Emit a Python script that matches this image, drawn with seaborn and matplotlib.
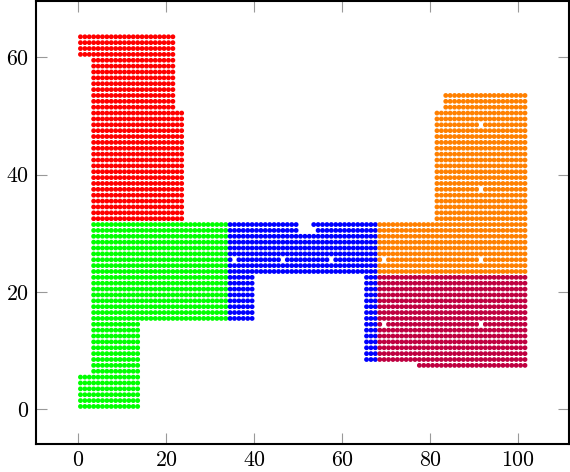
import numpy as np
import pandas as pd
import matplotlib.pyplot as plt
import seaborn as sns

# Blocks of the grid: first/last column, first/last row
red_x0 = [3.5, 3.5, 0.5]
red_x1 = [23.5, 21.5, 21.5]
red_y0 = [32.5, 51.5, 60.5]
red_y1 = [50.5, 59.5, 63.5]

green_x0 = [0.5, 3.5, 3.5]
green_x1 = [13.5, 13.5, 33.5]
green_y0 = [0.5, 6.5, 15.5]
green_y1 = [5.5, 14.5, 31.5]

blue_x0 = [34.5, 65.5, 34.5]
blue_x1 = [39.5, 67.5, 67.5]
blue_y0 = [15.5, 8.5, 23.5]
blue_y1 = [22.5, 22.5, 31.5]
blue_holes = [(35.5, 25.5), (46.5, 25.5), (57.5, 25.5),
              (50.5, 31.5), (51.5, 31.5), (52.5, 31.5),
              (50.5, 30.5), (51.5, 30.5), (52.5, 30.5), (53.5, 30.5)]

orange_x0 = [68.5, 81.5, 83.5]
orange_x1 = [101.5, 101.5, 101.5]
orange_y0 = [23.5, 32.5, 51.5]
orange_y1 = [31.5, 50.5, 53.5]
orange_holes = [(69.5, 25.5), (91.5, 25.5), (91.5, 37.5), (91.5, 48.5)]

crimson_x0 = [77.5, 68.5]
crimson_x1 = [101.5, 101.5]
crimson_y0 = [7.5, 8.5]
crimson_y1 = [7.5, 22.5]
crimson_holes = [(69.5, 14.5), (91.5, 14.5)]

x_ticks = [0, 20, 40, 60, 80, 100]
y_ticks = [0, 20, 40, 60]
colors = {'red': '#ff0000', 'green': '#00ff00', 'blue': '#0000ff',
          'orange': '#ff8000', 'crimson': '#bf0040'}


def cells(name, x0, x1, y0, y1, holes=()):
    rows = []
    for a, b, c, d in zip(x0, x1, y0, y1):
        for y in np.arange(c, d + 1):
            for x in np.arange(a, b + 1):
                if (x, y) not in holes:
                    rows.append((x, y, name))
    return rows


pts = (cells('red', red_x0, red_x1, red_y0, red_y1)
       + cells('green', green_x0, green_x1, green_y0, green_y1)
       + cells('blue', blue_x0, blue_x1, blue_y0, blue_y1, blue_holes)
       + cells('orange', orange_x0, orange_x1, orange_y0, orange_y1, orange_holes)
       + cells('crimson', crimson_x0, crimson_x1, crimson_y0, crimson_y1, crimson_holes))
df = pd.DataFrame(pts, columns=['x', 'y', 'group'])

sns.set_style('white')
plt.rcParams['font.family'] = ['cmr10', 'DejaVu Sans']
plt.rcParams['axes.formatter.use_mathtext'] = True

fig = plt.figure(figsize=(5.7, 4.72), dpi=100)
ax = fig.add_axes([36 / 570, 28 / 472, 533 / 570, 443 / 472])

sns.scatterplot(data=df, x='x', y='y', hue='group', palette=colors, s=12,
                linewidth=0, legend=False, ax=ax)

ax.set_xlim(-9.6, 111.5)
ax.set_ylim(-5.9, 69.6)
ax.set_xticks(x_ticks)
ax.set_yticks(y_ticks)
ax.set_xlabel('')
ax.set_ylabel('')
ax.tick_params(axis='both', direction='in', length=8, width=0.8, color='#999999',
               labelsize=15.8, top=True, right=True, left=True, bottom=True,
               labelcolor='black', pad=5)
for s in ax.spines.values():
    s.set_visible(True)
    s.set_color('black')
    s.set_linewidth(1.5)

fig.savefig('out.png', dpi=100)
plt.close()
